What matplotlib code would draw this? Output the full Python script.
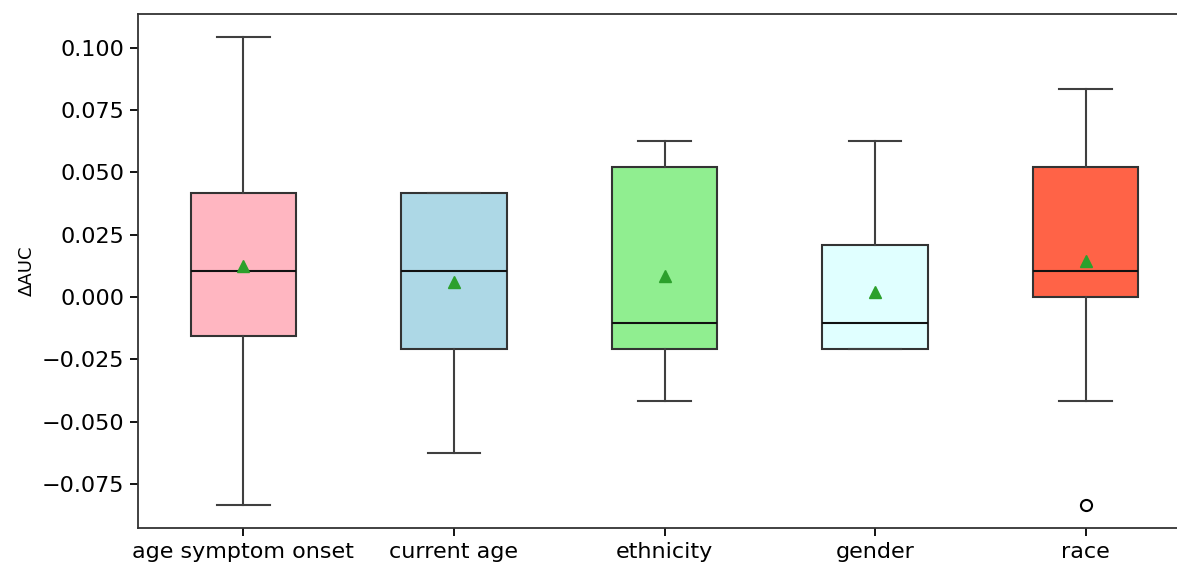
import matplotlib.pyplot as plt

# values
categories = ["age symptom onset", "current age", "ethnicity", "gender", "race"]
whislo = [-0.0833, -0.0625, -0.0417, -0.0208, -0.0417]
q1 = [-0.0156, -0.0208, -0.0208, -0.0208, 0.0]
med = [0.0104, 0.0104, -0.0104, -0.0104, 0.0104]
q3 = [0.0417, 0.0417, 0.0521, 0.0208, 0.0521]
whishi = [0.1042, 0.0417, 0.0625, 0.0625, 0.0833]
means = [0.0125, 0.0062, 0.0085, 0.0021, 0.0146]
fliers = [[], [], [], [], [-0.0833]]
colors = ["lightpink", "lightblue", "lightgreen", "lightcyan", "tomato"]

stats = []
for i, name in enumerate(categories):
    stats.append({
        "label": name, "whislo": whislo[i], "q1": q1[i], "med": med[i],
        "q3": q3[i], "whishi": whishi[i], "mean": means[i], "fliers": fliers[i],
    })

fig = plt.figure(figsize=(11.77, 5.64), dpi=100)
# axes run a little past the right border, as in the cropped original
ax = fig.add_axes([138 / 1177, 1 - 528 / 564, (1191 - 138) / 1177, (528 - 14) / 564])

edge = "#333333"
bp = ax.bxp(stats, widths=0.5, showmeans=True, patch_artist=True,
            boxprops=dict(edgecolor=edge, linewidth=1.5),
            whiskerprops=dict(color="#3f3f3f", linewidth=1.5),
            capprops=dict(color="#3f3f3f", linewidth=1.5),
            medianprops=dict(color="#111111", linewidth=1.5),
            meanprops=dict(marker="^", markerfacecolor="#2ca02c", markeredgecolor="#2ca02c", markersize=9),
            flierprops=dict(marker="o", markerfacecolor="white", markeredgecolor="black", markersize=8, markeredgewidth=1.5))
for patch, c in zip(bp["boxes"], colors):
    patch.set_facecolor(c)

ax.set_xlim(0.5, 5.5)
ax.set_ylim(-0.0927, 0.1136)
ax.set_yticks([-0.075, -0.05, -0.025, 0.0, 0.025, 0.05, 0.075, 0.1])
ax.tick_params(labelsize=16, length=6, width=1.3, pad=4)
ax.set_ylabel("ΔAUC", fontsize=13)
ax.spines["right"].set_visible(False)
for s in ax.spines.values():
    s.set_linewidth(1.3)
    s.set_color("#333333")

fig.savefig("out.png", dpi=100)
